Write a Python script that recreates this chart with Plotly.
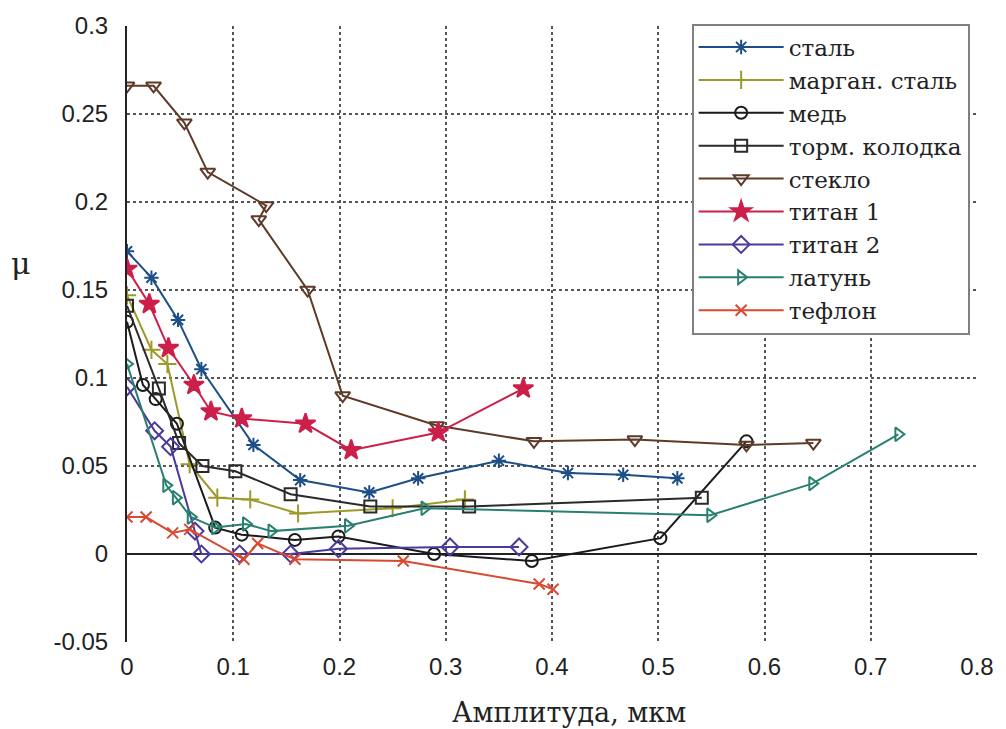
import plotly.graph_objects as go

# ---- data ----
steel_x = [0.0, 0.023, 0.048, 0.070, 0.119, 0.163, 0.228, 0.274, 0.350, 0.415, 0.467, 0.518]
steel_y = [0.172, 0.157, 0.133, 0.105, 0.062, 0.042, 0.035, 0.043, 0.053, 0.046, 0.045, 0.043]

mang_x = [0.0, 0.023, 0.038, 0.059, 0.085, 0.116, 0.161, 0.250, 0.318]
mang_y = [0.147, 0.116, 0.108, 0.051, 0.032, 0.031, 0.023, 0.026, 0.031]

copper_x = [0.0, 0.015, 0.027, 0.047, 0.083, 0.108, 0.158, 0.199, 0.289, 0.381, 0.502, 0.583]
copper_y = [0.132, 0.096, 0.088, 0.074, 0.015, 0.011, 0.008, 0.010, 0.000, -0.004, 0.009, 0.064]

brake_x = [0.0, 0.030, 0.049, 0.071, 0.102, 0.154, 0.229, 0.322, 0.541]
brake_y = [0.141, 0.094, 0.063, 0.050, 0.047, 0.034, 0.027, 0.027, 0.032]

glass_x = [0.0, 0.025, 0.054, 0.076, 0.131, 0.124, 0.170, 0.203, 0.2915, 0.383, 0.478, 0.583, 0.646]
glass_y = [0.266, 0.266, 0.245, 0.217, 0.198, 0.190, 0.150, 0.090, 0.073, 0.064, 0.065, 0.062, 0.063]

ti1_x = [0.0, 0.021, 0.039, 0.063, 0.079, 0.108, 0.168, 0.211, 0.293, 0.373]
ti1_y = [0.162, 0.142, 0.117, 0.096, 0.081, 0.077, 0.074, 0.059, 0.069, 0.094]

ti2_x = [0.0, 0.026, 0.041, 0.064, 0.070, 0.106, 0.154, 0.199, 0.304, 0.369]
ti2_y = [0.095, 0.070, 0.061, 0.013, 0.000, 0.000, 0.000, 0.003, 0.004, 0.004]

brass_x = [0.0, 0.037, 0.046, 0.060, 0.083, 0.112, 0.136, 0.208, 0.280, 0.549, 0.645, 0.726]
brass_y = [0.108, 0.039, 0.032, 0.021, 0.015, 0.017, 0.013, 0.016, 0.026, 0.022, 0.040, 0.068]

teflon_x = [0.0, 0.018, 0.043, 0.059, 0.110, 0.123, 0.158, 0.260, 0.388, 0.401]
teflon_y = [0.021, 0.021, 0.012, 0.014, -0.003, 0.006, -0.003, -0.004, -0.017, -0.020]

names = ["сталь", "марган. сталь", "медь", "торм. колодка", "стекло",
         "титан 1", "титан 2", "латунь", "тефлон"]

x_ticks = [0, 0.1, 0.2, 0.3, 0.4, 0.5, 0.6, 0.7, 0.8]
x_ticktext = ["0", "0.1", "0.2", "0.3", "0.4", "0.5", "0.6", "0.7", "0.8"]
y_ticks = [-0.05, 0, 0.05, 0.1, 0.15, 0.2, 0.25, 0.3]
y_ticktext = ["-0.05", "0", "0.05", "0.1", "0.15", "0.2", "0.25", "0.3"]

series = [
    (steel_x, steel_y, "#1d4f86", "asterisk-open", 12),
    (mang_x, mang_y, "#9e9a2a", "cross-thin-open", 13),
    (copper_x, copper_y, "#1a1a1a", "circle-open", 12),
    (brake_x, brake_y, "#2a2a2a", "square-open", 12),
    (glass_x, glass_y, "#5e3b28", "triangle-down-open", 13),
    (ti1_x, ti1_y, "#cc1f4a", "star", 15),
    (ti2_x, ti2_y, "#4a3a9c", "diamond-open", 13),
    (brass_x, brass_y, "#2a8070", "triangle-right-open", 12),
    (teflon_x, teflon_y, "#d84a32", "x-thin-open", 11),
]

fig = go.Figure()
for (xs, ys, col, sym, sz), nm in zip(series, names):
    fig.add_trace(go.Scatter(
        x=xs, y=ys, name=nm, mode="lines+markers",
        line=dict(color=col, width=2),
        marker=dict(symbol=sym, size=sz, color=col,
                    line=dict(color=col, width=2)),
    ))

grid = dict(showgrid=True, gridcolor="#555555", gridwidth=1.5, griddash="dot")

fig.update_layout(
    width=1006, height=729,
    margin=dict(l=127, r=21, t=22, b=87),
    plot_bgcolor="white", paper_bgcolor="white",
    font=dict(family="Liberation Sans", size=24, color="#222222"),
    xaxis=dict(range=[0, 0.8], tickvals=x_ticks, ticktext=x_ticktext,
               showline=False, zeroline=False, ticks="",
               ticklabelstandoff=8, **grid),
    yaxis=dict(range=[-0.05, 0.3], tickvals=y_ticks, ticktext=y_ticktext,
               showline=True, linecolor="#222222", linewidth=2,
               zeroline=True, zerolinecolor="#222222", zerolinewidth=1.5,
               ticks="", ticklabelstandoff=12, **grid),
    legend=dict(x=0.6643, y=1.004, xanchor="left", yanchor="top",
                bgcolor="white", bordercolor="#808080", borderwidth=2,
                font=dict(family="DejaVu Serif", size=23, color="#222222"),
                itemwidth=85, tracegroupgap=0),
    showlegend=True,
    annotations=[
        dict(text="Амплитуда, мкм", xref="paper", yref="paper",
             x=0.5198, y=-0.1145, xanchor="center", yanchor="middle",
             showarrow=False,
             font=dict(family="DejaVu Serif", size=27, color="#222222")),
        dict(text="μ", xref="paper", yref="paper",
             x=-0.1247, y=0.615, xanchor="center", yanchor="middle",
             showarrow=False,
             font=dict(family="DejaVu Serif", size=30, color="#222222")),
    ],
)

fig.write_html("out.html")
